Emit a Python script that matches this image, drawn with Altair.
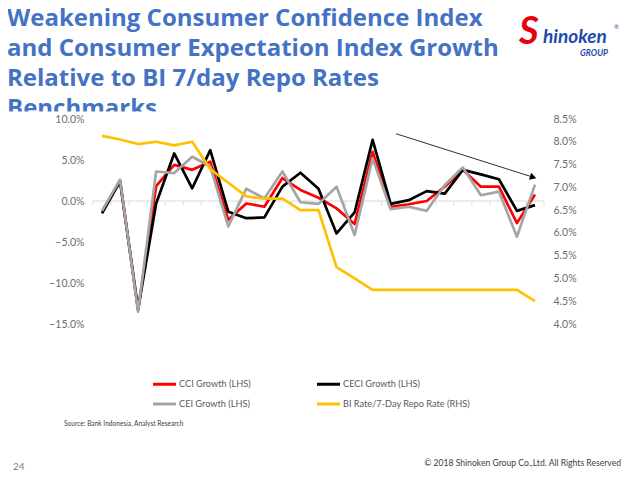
import math
import altair as alt
import pandas as pd

# ---------------- data ----------------
months = ["Jul-15", "Aug-15", "Sep-15", "Oct-15", "Nov-15", "Dec-15", "Jan-16", "Feb-16",
          "Mar-16", "Apr-16", "May-16", "Jun-16", "Jul-16", "Aug-16", "Sep-16", "Oct-16",
          "Nov-16", "Dec-16", "Jan-17", "Feb-17", "Mar-17", "Apr-17", "May-17", "Jun-17", "Jul-17"]

cci_growth = [-1.3, 2.5, -13.3, 1.8, 4.4, 3.8, 4.8, -2.3, -0.3, -0.7, 2.8, 1.35, 0.4,
              -0.9, -2.8, 6.0, -0.7, -0.4, 0.0, 1.75, 3.8, 1.75, 1.75, -2.7, 0.8]
ceci_growth = [-1.5, 2.4, -13.2, -0.3, 5.8, 1.55, 6.2, -1.3, -2.1, -2.0, 1.75, 3.45, 1.5,
               -3.95, -1.4, 7.45, -0.35, 0.1, 1.2, 0.9, 3.8, 3.25, 2.65, -1.2, -0.5]
cei_growth = [-1.2, 2.6, -13.5, 3.6, 3.4, 5.4, 4.2, -3.1, 1.5, 0.3, 3.6, -0.15, -0.35,
              1.75, -4.15, 5.2, -1.0, -0.7, -1.2, 1.95, 4.1, 0.7, 1.15, -4.35, 2.0]
bi_rate = [8.13, 8.05, 7.95, 8.0, 7.92, 8.0, 7.4, 7.1, 6.8, 6.75, 6.75, 6.5, 6.5,
           5.25, 5.0, 4.75, 4.75, 4.75, 4.75, 4.75, 4.75, 4.75, 4.75, 4.75, 4.5]

series_names = ["CCI Growth (LHS)", "CECI Growth (LHS)", "CEI Growth (LHS)",
                "BI Rate/7-Day Repo Rate (RHS)"]
series_colors = ["#ff0000", "#000000", "#a5a5a5", "#ffc000"]

left_ticks = [-15, -10, -5, 0, 5, 10]
right_ticks = [4.0, 4.5, 5.0, 5.5, 6.0, 6.5, 7.0, 7.5, 8.0, 8.5]

# trend arrow annotation (category index, LHS value)
arrow_start = (16.3, 8.2)
arrow_end = (23.9, 2.9)

title_text = ("Weakening Consumer Confidence Index\nand Consumer Expectation Index Growth\n"
              "Relative to BI 7/day Repo Rates\nBenchmarks")
source_text = "Source: Bank Indonesia, Analyst Research"
copyright_text = "\u00a9 2018 Shinoken Group Co.,Ltd. All Rights Reserved"
page_number = "24"

# ---------------- layout ----------------
W, H = 451, 205
PAD = {"left": 85, "top": 111, "right": 88, "bottom": 148}
LEFT_DOMAIN = [left_ticks[0], left_ticks[-1]]
RIGHT_DOMAIN = [right_ticks[0], right_ticks[-1]]
FONT = "Lato"
AXIS_GRAY = "#6e6e6e"

n = len(months)
idx = list(range(n))

long_df = pd.DataFrame({
    "i": idx * 3,
    "v": cci_growth + ceci_growth + cei_growth,
    "s": [series_names[0]] * n + [series_names[1]] * n + [series_names[2]] * n,
})
bi_df = pd.DataFrame({"i": idx, "v": bi_rate, "s": [series_names[3]] * n})

label_expr = "[" + ",".join("'%s'" % m for m in months) + "][datum.value]"

x_scale = alt.Scale(domain=[-0.5, n - 0.5], nice=False, zero=False)
x_axis = alt.Axis(values=idx, labelExpr=label_expr, labelAngle=270, ticks=False,
                  domain=False, grid=False, labelPadding=8, labelFontSize=10.5,
                  labelColor=AXIS_GRAY, labelFont=FONT, labelOverlap=False,
                  labelFlush=False, title=None)
x_enc = alt.X("i:Q", scale=x_scale, axis=x_axis)

left_scale = alt.Scale(domain=LEFT_DOMAIN, nice=False, zero=False)
right_scale = alt.Scale(domain=RIGHT_DOMAIN, nice=False, zero=False)

color_enc = alt.Color(
    "s:N",
    scale=alt.Scale(domain=series_names, range=series_colors),
    legend=alt.Legend(title=None, orient="none", direction="horizontal",
                      legendX=58, legendY=251.5, columns=2,
                      symbolType="stroke", symbolSize=530, symbolStrokeWidth=3,
                      labelFontSize=9.2, labelColor="#595959", labelFont=FONT,
                      columnPadding=59, rowPadding=-3, labelOffset=1),
)

# zero line
zero_layer = alt.Chart(pd.DataFrame({"z": [0]})).mark_rule(
    color="#d9d9d9", strokeWidth=1
).encode(
    y=alt.Y("z:Q", scale=left_scale, axis=None),
    x=alt.value(0), x2=alt.value(W),
)

# small category tick marks on the zero line
zero_px = H * (LEFT_DOMAIN[1] - 0) / (LEFT_DOMAIN[1] - LEFT_DOMAIN[0])
tick_df = pd.DataFrame({"i": [k - 0.5 for k in range(n + 1)]})
tick_layer = alt.Chart(tick_df).mark_rule(color="#d9d9d9", strokeWidth=1).encode(
    x=x_enc, y=alt.value(zero_px), y2=alt.value(zero_px + 4),
)

lines_layer = alt.Chart(long_df).mark_line(strokeWidth=2.7, strokeJoin="round").encode(
    x=x_enc,
    y=alt.Y("v:Q", scale=left_scale,
            axis=alt.Axis(orient="left", values=left_ticks,
                          labelExpr="format(datum.value/100, '.1%')",
                          ticks=False, domain=False, grid=False, labelPadding=9,
                          labelFontSize=10.5, labelColor=AXIS_GRAY, labelFont=FONT,
                          title=None, zindex=1)),
    color=color_enc,
)

bi_layer = alt.Chart(bi_df).mark_line(strokeWidth=2.7, strokeJoin="round").encode(
    x=x_enc,
    y=alt.Y("v:Q", scale=right_scale,
            axis=alt.Axis(orient="right", values=right_ticks,
                          labelExpr="format(datum.value/100, '.1%')",
                          ticks=False, domain=False, grid=False, labelPadding=9,
                          labelFontSize=10.5, labelColor=AXIS_GRAY, labelFont=FONT,
                          title=None, labelFlush=False)),
    color=color_enc,
)

arrow_df = pd.DataFrame({"i": [arrow_start[0]], "v": [arrow_start[1]],
                         "i2": [arrow_end[0]], "v2": [arrow_end[1]]})
arrow_layer = alt.Chart(arrow_df).mark_rule(color="#303030", strokeWidth=1).encode(
    x=x_enc, x2="i2:Q",
    y=alt.Y("v:Q", scale=left_scale, axis=None), y2="v2:Q",
)
px_per_x = W / n
px_per_y = H / (LEFT_DOMAIN[1] - LEFT_DOMAIN[0])
arrow_angle = math.degrees(math.atan2((arrow_start[1] - arrow_end[1]) * px_per_y,
                                      (arrow_end[0] - arrow_start[0]) * px_per_x))
head_layer = alt.Chart(arrow_df).mark_point(
    shape="triangle-right", filled=True, size=55, color="#000000", opacity=1,
    angle=arrow_angle
).encode(
    x=alt.X("i2:Q", scale=x_scale, axis=None),
    y=alt.Y("v2:Q", scale=left_scale, axis=None),
)


def text_layer(text, x, y, size, color, weight="normal", style="normal",
               align="left", baseline="alphabetic", line_height=None, font=FONT):
    kw = dict(fontSize=size, color=color, fontWeight=weight, fontStyle=style,
              align=align, baseline=baseline, font=font)
    if line_height is not None:
        kw["lineBreak"] = "\n"
        kw["lineHeight"] = line_height
    return alt.Chart(pd.DataFrame({"t": [text]})).mark_text(**kw).encode(
        text="t:N", x=alt.value(x), y=alt.value(y))


title_layer = text_layer(title_text, -86, -93.3, 24, "#4472C4", weight="bold",
                         line_height=30, font="Open Sans")
cover_layer = alt.Chart(pd.DataFrame({"c": [0]})).mark_rect(color="white").encode(
    x=alt.value(-93), x2=alt.value(120), y=alt.value(-7.5), y2=alt.value(-1),
)
logo_s = text_layer("S", 426, -75, 38, "#e60012", weight="bold", style="italic")
logo_name = text_layer("hinoken", 450, -76, 19, "#1f4aa8", weight="bold", style="italic")
logo_group = text_layer("GROUP", 487, -63, 8.5, "#1f4aa8", weight="bold", style="italic")
logo_r = text_layer("\u00ae", 521, -90, 6, "#1f4aa8")
source_layer = text_layer(source_text, -29, 305, 6.6, "#404040", baseline="middle")
copy_layer = text_layer(copyright_text, 528, 344, 8.6, "#404040", align="right",
                        baseline="middle")
page_layer = text_layer(page_number, -80, 348, 10, "#808080", baseline="middle")

chart = alt.layer(
    title_layer, cover_layer, logo_s, logo_name, logo_group, logo_r,
    source_layer, copy_layer, page_layer,
    zero_layer, tick_layer, lines_layer, bi_layer, arrow_layer, head_layer,
).resolve_scale(y="independent").properties(
    width=W, height=H,
    autosize=alt.AutoSizeParams(type="none"),
    padding=PAD,
    background="white",
).configure_view(stroke=None)

chart.save("out.html", embed_options={"renderer": "svg", "actions": False})
